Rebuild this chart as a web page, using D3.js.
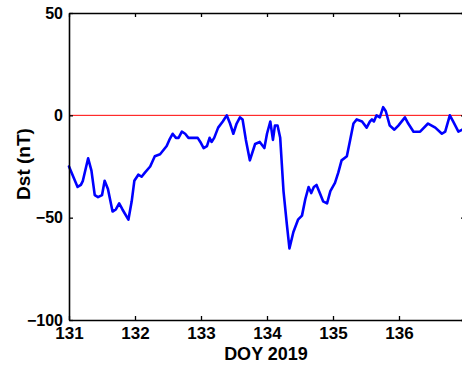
<!DOCTYPE html>
<html>
<head>
<meta charset="utf-8">
<script src="https://cdn.jsdelivr.net/npm/d3@7"></script>
<style>
  html, body { margin: 0; padding: 0; background: #fff; }
  svg { display: block; }
  .tick text { font-family: "Liberation Sans", Arial, sans-serif; font-weight: bold; fill: #000; }
</style>
</head>
<body>
<script>
// Hourly-ish Dst index samples, day-of-year 2019
const doy = [
  131.00, 131.13, 131.18, 131.21, 131.29, 131.34, 131.39, 131.44, 131.50, 131.54,
  131.59, 131.66, 131.71, 131.76, 131.81, 131.90, 131.95, 131.99, 132.05, 132.10,
  132.15, 132.23, 132.30, 132.38, 132.48, 132.52, 132.57, 132.62, 132.66, 132.71,
  132.76, 132.81, 132.88, 132.95, 132.99, 133.04, 133.09, 133.13, 133.16, 133.20,
  133.26, 133.33, 133.39, 133.44, 133.49, 133.54, 133.59, 133.63, 133.68, 133.74,
  133.82, 133.89, 133.96, 134.00, 134.05, 134.09, 134.12, 134.16, 134.20, 134.25,
  134.30, 134.34, 134.40, 134.47, 134.53, 134.58, 134.63, 134.67, 134.71, 134.75,
  134.80, 134.85, 134.91, 134.96, 135.03, 135.08, 135.13, 135.21, 135.26, 135.31,
  135.36, 135.44, 135.51, 135.56, 135.59, 135.62, 135.66, 135.71, 135.76, 135.80,
  135.86, 135.93, 135.99, 136.09, 136.14, 136.22, 136.32, 136.44, 136.55, 136.65,
  136.70, 136.77, 136.82, 136.90, 136.96, 137.00
];
const dst = [
  -25, -35, -34, -32, -21, -27, -39, -40, -39, -32,
  -36, -47, -46, -43, -46, -51, -42, -32, -29, -30,
  -28, -25, -20, -19, -15, -12, -9, -11, -11, -8,
  -9, -11, -11, -11, -13, -16, -15, -11, -13, -11,
  -6, -3, 0, -4, -9, -4, -1, -2, -12, -22,
  -14, -13, -16, -9, -3, -12, -5, -5, -11, -37,
  -53, -65, -57, -51, -49, -41, -35, -38, -35, -34,
  -38, -42, -43, -37, -33, -28, -22, -20, -12, -4,
  -2, -3, -6, -3, -2, -3, 0, -1, 4, 2,
  -5, -7, -5, -1, -4, -8, -8, -4, -6, -9,
  -8, 0, -3, -8, -7, -6
];
const xTicks = [131, 132, 133, 134, 135, 136, 137];
const xTickLabels = [131, 132, 133, 134, 135, 136];
const yTicks = [-100, -50, 0, 50];
const xTitle = "DOY 2019";
const yTitle = "Dst (nT)";

const W = 462, H = 366;
const svg = d3.select("body").append("svg").attr("width", W).attr("height", H);

const x = d3.scaleLinear().domain([131, 137]).range([69, 465]);
const y = d3.scaleLinear().domain([-100, 50]).range([320, 13]);

// zero reference line
svg.append("line")
  .attr("x1", x(131)).attr("x2", x(137))
  .attr("y1", y(0)).attr("y2", y(0))
  .attr("stroke", "#ff0000").attr("stroke-width", 1);

// Dst trace
const pts = doy.map((d, i) => [d, dst[i]]);
svg.append("path")
  .datum(pts)
  .attr("fill", "none")
  .attr("stroke", "#0000ff")
  .attr("stroke-width", 2.6)
  .attr("stroke-linejoin", "round")
  .attr("stroke-linecap", "round")
  .attr("d", d3.line().x(d => x(d[0])).y(d => y(d[1])));

function styleAxis(g) {
  g.select(".domain").attr("stroke", "#000").attr("stroke-width", 1.6);
  g.selectAll(".tick line").attr("stroke", "#000").attr("stroke-width", 1.3);
}

// frame axes with inward ticks
svg.append("g").attr("transform", `translate(0,${y(-100)})`)
  .call(d3.axisBottom(x).tickValues(xTicks)
    .tickFormat(d => xTickLabels.includes(d) ? d3.format("d")(d) : "")
    .tickSizeInner(-4).tickSizeOuter(0).tickPadding(7))
  .call(styleAxis)
  .call(g => g.selectAll(".tick text").attr("font-size", 17));

svg.append("g").attr("transform", `translate(${x(131)},0)`)
  .call(d3.axisLeft(y).tickValues(yTicks).tickFormat(d3.format("d"))
    .tickSizeInner(-4).tickSizeOuter(0).tickPadding(6))
  .call(styleAxis)
  .call(g => g.selectAll(".tick text").attr("font-size", 16));

svg.append("g").attr("transform", `translate(0,${y(50)})`)
  .call(d3.axisTop(x).tickValues(xTicks).tickFormat("")
    .tickSizeInner(-4).tickSizeOuter(0))
  .call(styleAxis);

svg.append("g").attr("transform", `translate(${x(137)},0)`)
  .call(d3.axisRight(y).tickValues(yTicks).tickFormat("")
    .tickSizeInner(-4).tickSizeOuter(0))
  .call(styleAxis);

// axis titles
svg.append("text")
  .attr("x", 266).attr("y", 360)
  .attr("text-anchor", "middle")
  .attr("font-family", "Liberation Sans, Arial, sans-serif")
  .attr("font-weight", "bold").attr("font-size", 18)
  .text(xTitle);

svg.append("text")
  .attr("transform", "translate(30,164) rotate(-90)")
  .attr("text-anchor", "middle")
  .attr("font-family", "Liberation Sans, Arial, sans-serif")
  .attr("font-weight", "bold").attr("font-size", 19)
  .text(yTitle);
</script>
</body>
</html>
